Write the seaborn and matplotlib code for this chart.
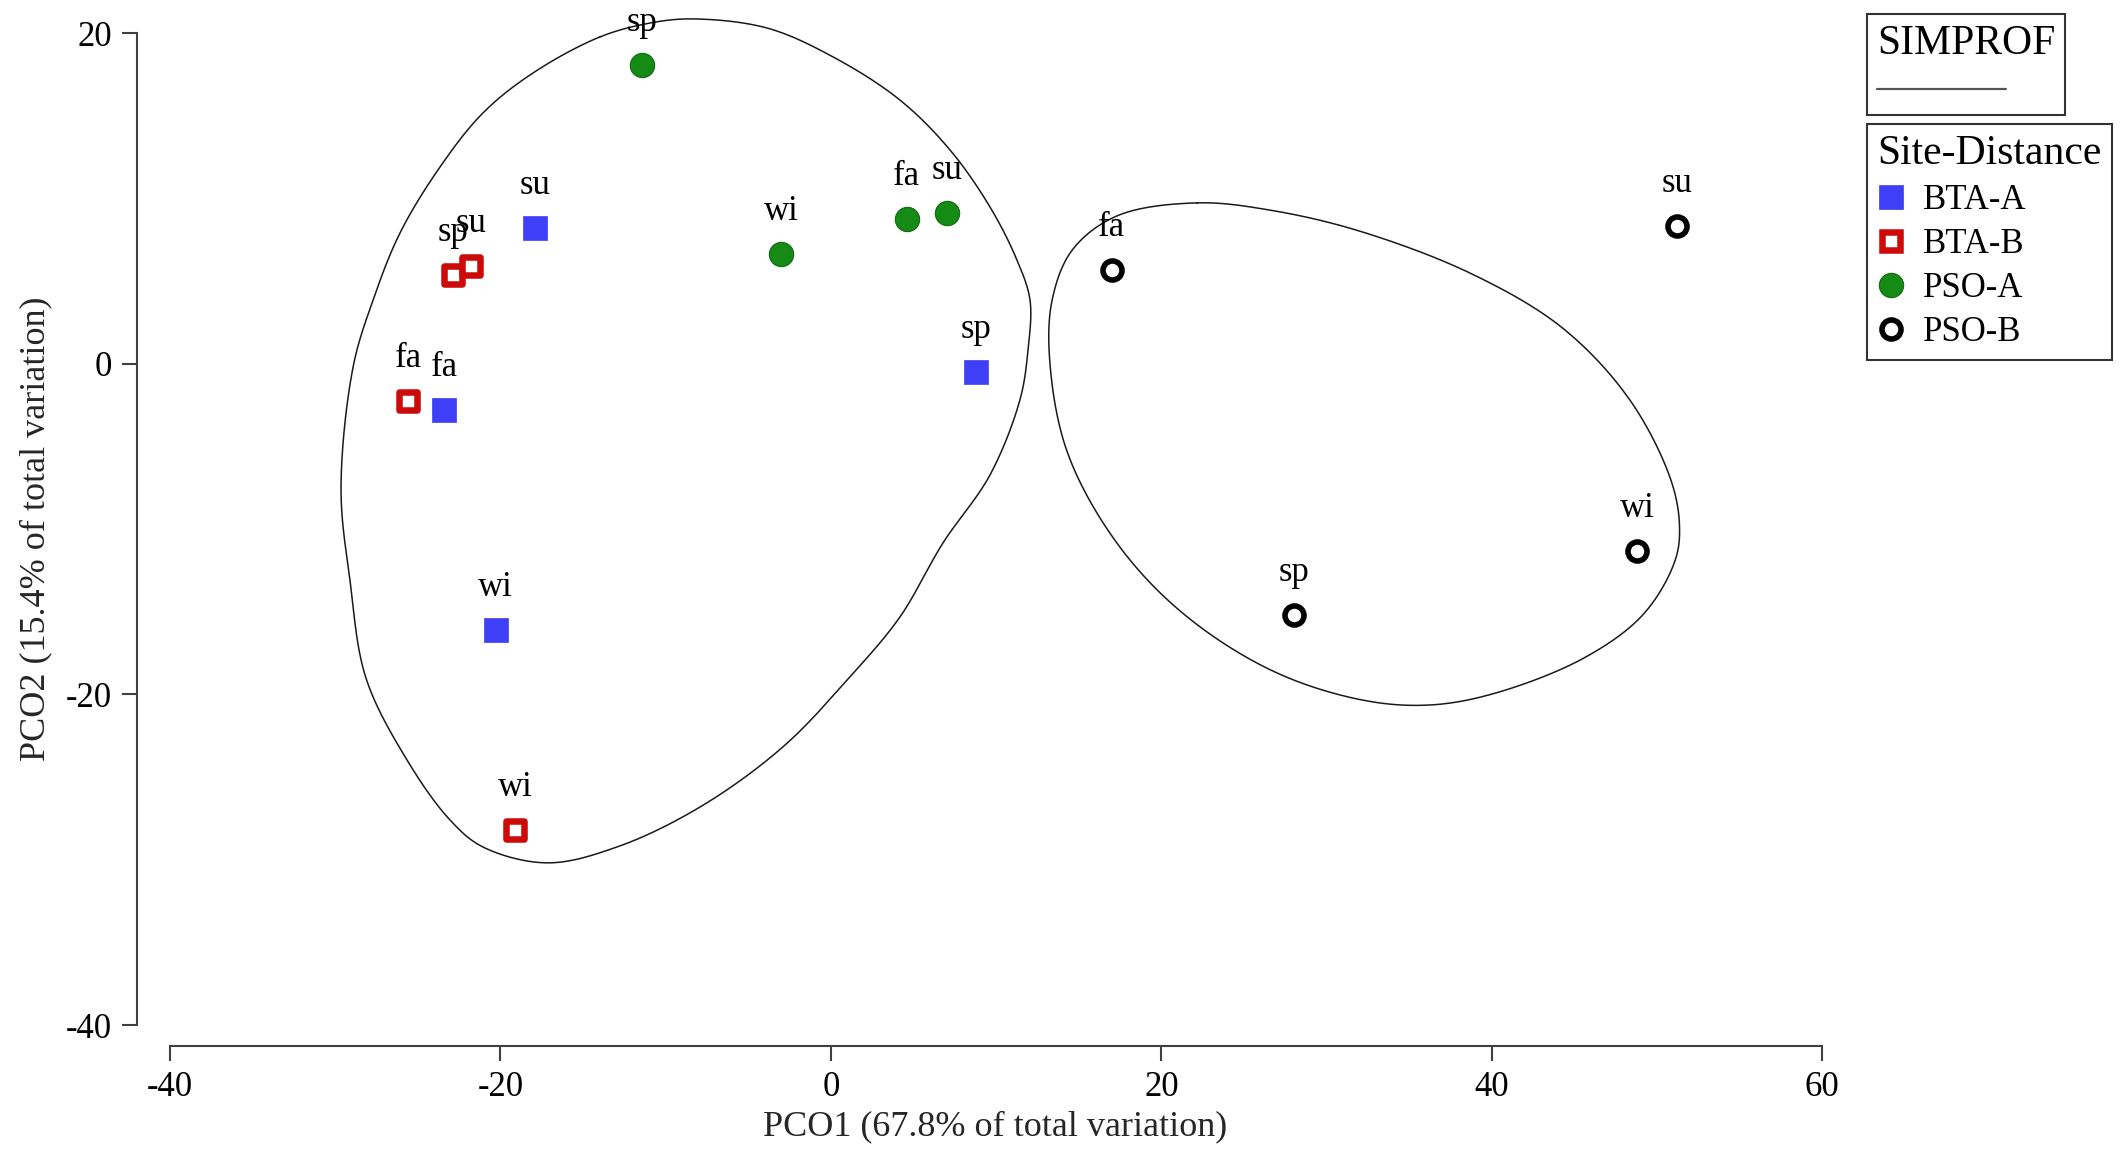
import numpy as np
import pandas as pd
import matplotlib
matplotlib.use("Agg")
import matplotlib.pyplot as plt
from matplotlib.lines import Line2D
import seaborn as sns

# ---------------- data ----------------
groups = ["BTA-A", "BTA-B", "PSO-A", "PSO-B"]

bta_a_season = ["su", "fa", "wi", "sp"]
bta_a_x = [-17.9, -23.4, -20.3, 8.8]
bta_a_y = [8.2, -2.8, -16.1, -0.5]

bta_b_season = ["sp", "su", "fa", "wi"]
bta_b_x = [-22.9, -21.8, -25.6, -19.1]
bta_b_y = [5.4, 5.9, -2.25, -28.2]

pso_a_season = ["sp", "wi", "fa", "su"]
pso_a_x = [-11.45, -3.0, 4.6, 7.0]
pso_a_y = [18.1, 6.65, 8.75, 9.1]

pso_b_season = ["fa", "su", "wi", "sp"]
pso_b_x = [17.0, 51.2, 48.8, 28.0]
pso_b_y = [5.65, 8.35, -11.3, -15.2]

# SIMPROF contour outlines (control points, data coordinates)
contour1_x = [-13.98, -10.95, -8.35, -3.87, 0.13, 4.18, 7.21, 9.63, 11.26, 12.05,
              11.93, 11.44, 9.63, 6.78, 4.18, 1.15, -2.90, -7.92, -12.95, -17.18,
              -21.06, -23.05, -25.66, -28.14, -29.11, -29.65, -28.92, -27.71,
              -26.08, -23.66, -21.06, -18.03]
contour1_y = [19.78, 20.62, 20.87, 20.32, 18.57, 15.96, 12.94, 9.49, 6.28, 3.86,
              0.84, -2.18, -6.72, -10.84, -15.31, -18.94, -23.17, -26.81, -29.23,
              -30.19, -29.23, -27.60, -23.96, -19.01, -13.08, -7.57, -0.19, 3.86,
              7.92, 11.91, 15.18, 17.60]

contour2_x = [22.17, 17.31, 14.61, 13.39, 13.26, 14.34, 17.31, 21.36, 26.76, 32.17,
              36.23, 40.25, 45.68, 49.19, 51.09, 51.36, 50.81, 48.36, 44.33, 38.92,
              32.17, 26.76]
contour2_y = [9.74, 8.95, 6.89, 3.86, -0.01, -5.43, -10.84, -15.14, -18.59, -20.34,
              -20.64, -19.91, -17.74, -15.13, -11.91, -9.75, -6.94, -2.19, 2.13, 5.38,
              7.98, 9.27]

x_ticks = [-40, -20, 0, 20, 40, 60]
y_ticks = [-40, -20, 0, 20]
x_label = "PCO1 (67.8% of total variation)"
y_label = "PCO2 (15.4% of total variation)"

frames = []
for g, s, xs, ys in [("BTA-A", bta_a_season, bta_a_x, bta_a_y),
                     ("BTA-B", bta_b_season, bta_b_x, bta_b_y),
                     ("PSO-A", pso_a_season, pso_a_x, pso_a_y),
                     ("PSO-B", pso_b_season, pso_b_x, pso_b_y)]:
    frames.append(pd.DataFrame({"group": g, "season": s, "x": xs, "y": ys}))
df = pd.concat(frames, ignore_index=True)

# ---------------- style ----------------
sns.set_style("ticks")
plt.rcParams["font.family"] = ["Liberation Serif", "DejaVu Serif"]
plt.rcParams["text.color"] = "black"
plt.rcParams["axes.unicode_minus"] = False

BLUE = "#3f3ff7"
RED = "#cc0a0a"
GREEN = "#158a15"
SPINE = "#404040"

styles = {
    "BTA-A": dict(marker="s", face=BLUE, edge=BLUE, size=17.5, lw=0.5),
    "BTA-B": dict(marker="s", face="white", edge=RED, size=13.3, lw=4.7),
    "PSO-A": dict(marker="o", face=GREEN, edge="#0f6a0f", size=17.5, lw=0.8),
    "PSO-B": dict(marker="o", face="white", edge="black", size=13.7, lw=4.0),
}

fig = plt.figure(figsize=(21.27, 11.52), dpi=100)
ax = fig.add_axes([0.0644, 0.0923, 0.7962, 0.9075])
ax.set_xlim(-42.0, 60.5)
ax.set_ylim(-41.25, 22)


def closed_curve(xs, ys, n=40, alpha=0.5):
    """Closed centripetal Catmull-Rom spline through the control points."""
    P = np.column_stack([xs, ys]).astype(float)
    N = len(P)
    out = []
    for i in range(N):
        p0, p1, p2, p3 = P[(i - 1) % N], P[i], P[(i + 1) % N], P[(i + 2) % N]
        t0 = 0.0
        t1 = t0 + np.linalg.norm(p1 - p0) ** alpha
        t2 = t1 + np.linalg.norm(p2 - p1) ** alpha
        t3 = t2 + np.linalg.norm(p3 - p2) ** alpha
        t = np.linspace(t1, t2, n, endpoint=False)[:, None]
        a1 = (t1 - t) / (t1 - t0) * p0 + (t - t0) / (t1 - t0) * p1
        a2 = (t2 - t) / (t2 - t1) * p1 + (t - t1) / (t2 - t1) * p2
        a3 = (t3 - t) / (t3 - t2) * p2 + (t - t2) / (t3 - t2) * p3
        b1 = (t2 - t) / (t2 - t0) * a1 + (t - t0) / (t2 - t0) * a2
        b2 = (t3 - t) / (t3 - t1) * a2 + (t - t1) / (t3 - t1) * a3
        c = (t2 - t) / (t2 - t1) * b1 + (t - t1) / (t2 - t1) * b2
        out.append(c)
    out.append(P[:1])
    return np.vstack(out)


for cx, cy in [(contour1_x, contour1_y), (contour2_x, contour2_y)]:
    c = closed_curve(cx, cy)
    ax.plot(c[:, 0], c[:, 1], color="#1a1a1a", lw=1.1, zorder=1)

for g in groups:
    st = styles[g]
    sub = df[df["group"] == g]
    sns.scatterplot(data=sub, x="x", y="y", ax=ax, marker=st["marker"],
                    color=st["face"], edgecolor=st["edge"], linewidth=st["lw"],
                    s=st["size"] ** 2, zorder=3, legend=False)
    for _, r in sub.iterrows():
        ax.annotate(r["season"], (r["x"], r["y"]), xytext=(0, 24.5),
                    textcoords="offset points", ha="center", va="baseline",
                    fontsize=25, color="black", zorder=4, annotation_clip=False)

# axes styling (range-frame look)
sns.despine(ax=ax)
ax.spines["left"].set_bounds(-40, 20)
ax.spines["bottom"].set_bounds(-40, 60)
for sp in ["left", "bottom"]:
    ax.spines[sp].set_color(SPINE)
    ax.spines[sp].set_linewidth(1.5)
ax.set_xticks(x_ticks)
ax.set_yticks(y_ticks)
ax.tick_params(axis="both", length=11, width=1.5, color=SPINE, labelsize=25,
               labelcolor="black", pad=7, direction="out")
ax.set_xlabel(x_label, fontsize=26, labelpad=10)
ax.set_ylabel(y_label, fontsize=26, labelpad=14)
ax.xaxis.set_label_coords(0.507, -0.062)
ax.yaxis.set_label_coords(-0.050, 0.494)
ax.grid(False)

# ---------------- legends ----------------
W, H = 2127.0, 1152.0
h1 = [Line2D([0], [0], color="#555555", lw=1.6)]
leg1 = fig.legend(h1, [""], title="SIMPROF", loc="upper left",
                  bbox_to_anchor=(1867 / W, 1 - 14 / H), frameon=True,
                  fancybox=False, fontsize=20, title_fontsize=30,
                  handlelength=4.64, borderpad=0.36, labelspacing=0.62,
                  borderaxespad=0, alignment="left", handletextpad=0.0)
leg1.get_frame().set_edgecolor("black")
leg1.get_frame().set_linewidth(1.5)

h2 = []
for g in groups:
    st = styles[g]
    h2.append(Line2D([0], [0], marker=st["marker"], linestyle="none",
                     markersize=st["size"], markerfacecolor=st["face"],
                     markeredgecolor=st["edge"], markeredgewidth=st["lw"]))
leg2 = fig.legend(h2, groups, title="Site-Distance", loc="upper left",
                  bbox_to_anchor=(1867 / W, 1 - 124 / H), frameon=True,
                  fancybox=False, fontsize=25, title_fontsize=30,
                  handlelength=0.8, borderpad=0.3, borderaxespad=0,
                  labelspacing=0.32, handletextpad=0.5, alignment="left")
leg2.get_frame().set_edgecolor("black")
leg2.get_frame().set_linewidth(1.5)

fig.savefig("out.png", dpi=100)
